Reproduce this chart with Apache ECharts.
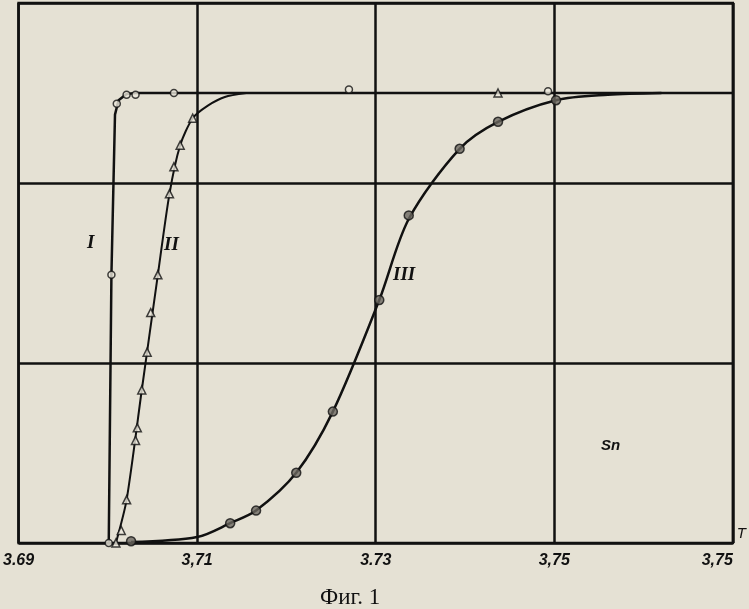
<!DOCTYPE html>
<html>
<head>
<meta charset="utf-8">
<script src="https://cdn.jsdelivr.net/npm/echarts@6/dist/echarts.min.js"></script>
<style>
  html, body { margin: 0; padding: 0; background: #e5e1d4; }
  #chart { width: 749px; height: 609px; }
</style>
</head>
<body>
<div id="chart"></div>
<script>
// подписи оси T (как в оригинале, включая опечатку в последней)
const tickValues = [3.69, 3.71, 3.73, 3.75, 3.77];
const tickLabels = ['3.69', '3,71', '3.73', '3,75', '3,75'];

// кривая I — точки (кружки)
const curve1Points = [[3.7001, 0], [3.7004, 1.49], [3.7010, 2.44], [3.7021, 2.49], [3.7031, 2.49], [3.7074, 2.5], [3.7270, 2.52], [3.7493, 2.51]];
// кривая I — линия
const curve1Line = [[3.7001, 0], [3.7004, 1.49], [3.7008, 2.38], [3.7012, 2.46], [3.7021, 2.495], [3.7031, 2.5], [3.77, 2.5]];

// кривая II — точки (треугольники)
const curve2Points = [[3.7009, 0], [3.7015, 0.07], [3.7021, 0.24], [3.7031, 0.57], [3.7033, 0.64], [3.7038, 0.85], [3.7044, 1.06], [3.7048, 1.28], [3.7056, 1.49], [3.7069, 1.94], [3.7074, 2.09], [3.7081, 2.21], [3.7095, 2.36], [3.7437, 2.5]];
// кривая II — линия
const curve2Line = [[3.7009, 0], [3.7021, 0.24], [3.7038, 0.85], [3.7056, 1.49], [3.7069, 1.94], [3.7081, 2.21], [3.7095, 2.36], [3.7112, 2.43], [3.7131, 2.478], [3.7155, 2.5]];

// кривая III — точки (кружки с точкой)
const curve3Points = [[3.7026, 0.01], [3.7137, 0.11], [3.7166, 0.18], [3.7211, 0.39], [3.7252, 0.73], [3.7304, 1.35], [3.7337, 1.82], [3.7394, 2.19], [3.7437, 2.34], [3.7502, 2.46]];
// кривая III — линия
const curve3Line = [[3.7026, 0.005], [3.71, 0.033], [3.7137, 0.11], [3.7166, 0.18], [3.7211, 0.39], [3.7252, 0.73], [3.7304, 1.35], [3.7337, 1.80], [3.7394, 2.19], [3.7437, 2.34], [3.7502, 2.46], [3.7560, 2.49], [3.7620, 2.5]];

const chart = echarts.init(document.getElementById('chart'));

const option = {
  backgroundColor: '#e5e1d4',
  animation: false,
  grid: { left: 15, right: 16, top: 3, bottom: 66, show: true, borderColor: '#111', borderWidth: 2.5 },
  xAxis: {
    type: 'value',
    min: 3.69,
    max: 3.77,
    interval: 0.02,
    name: 'T',
    nameLocation: 'end',
    nameGap: 4,
    nameTextStyle: { color: '#111', fontSize: 15, fontStyle: 'italic', fontFamily: 'Liberation Sans', verticalAlign: 'bottom', padding: [0, 0, 2, 0] },
    axisLine: { show: false },
    axisTick: { show: false },
    splitLine: { show: true, lineStyle: { color: '#111', width: 2.5 } },
    axisLabel: {
      margin: 10,
      color: '#111',
      fontSize: 16,
      fontWeight: 'bold',
      fontStyle: 'italic',
      fontFamily: 'Liberation Sans',
      alignMaxLabel: 'right',
      formatter: function (v) {
        const i = tickValues.findIndex(t => Math.abs(t - v) < 1e-6);
        return i >= 0 ? tickLabels[i] : '';
      }
    }
  },
  yAxis: {
    type: 'value',
    min: 0,
    max: 3,
    interval: 1,
    axisLine: { show: false },
    axisTick: { show: false },
    axisLabel: { show: false },
    splitLine: { show: true, lineStyle: { color: '#111', width: 2.5 } }
  },
  series: [
    { name: 'I', type: 'line', data: curve1Line, showSymbol: false, lineStyle: { color: '#111', width: 2.5 }, z: 3 },
    { name: 'II', type: 'line', data: curve2Line, showSymbol: false, smooth: 0.25, lineStyle: { color: '#111', width: 2 }, z: 3 },
    { name: 'III', type: 'line', data: curve3Line, showSymbol: false, smooth: 0.3, lineStyle: { color: '#111', width: 2.5 }, z: 3 },
    {
      name: 'I pts', type: 'scatter', data: curve1Points, symbol: 'circle', symbolSize: 7,
      itemStyle: { color: '#ece8dc', borderColor: '#111', borderWidth: 1.5 }, z: 5
    },
    {
      name: 'II pts', type: 'scatter', data: curve2Points, symbol: 'triangle', symbolSize: 8,
      itemStyle: { color: '#ece8dc', borderColor: '#111', borderWidth: 1.5 }, z: 5
    },
    {
      name: 'III pts', type: 'scatter', data: curve3Points, symbol: 'circle', symbolSize: 9,
      itemStyle: { color: '#6b6860', borderColor: '#111', borderWidth: 1.5 }, z: 5
    }
  ],
  graphic: [
    { type: 'text', left: 87, top: 234, style: { text: 'I', fill: '#111', font: 'italic bold 19px "Liberation Serif"' } },
    { type: 'text', left: 164, top: 236, style: { text: 'II', fill: '#111', font: 'italic bold 19px "Liberation Serif"' } },
    { type: 'text', left: 393, top: 266, style: { text: 'III', fill: '#111', font: 'italic bold 19px "Liberation Serif"' } },
    { type: 'text', left: 601, top: 438, style: { text: 'Sn', fill: '#111', font: 'italic bold 15px "Liberation Sans"' } },
    { type: 'text', left: 320, top: 586, style: { text: 'Фиг. 1', fill: '#111', font: '23px "Liberation Serif"' } }
  ]
};

chart.setOption(option);
</script>
</body>
</html>
